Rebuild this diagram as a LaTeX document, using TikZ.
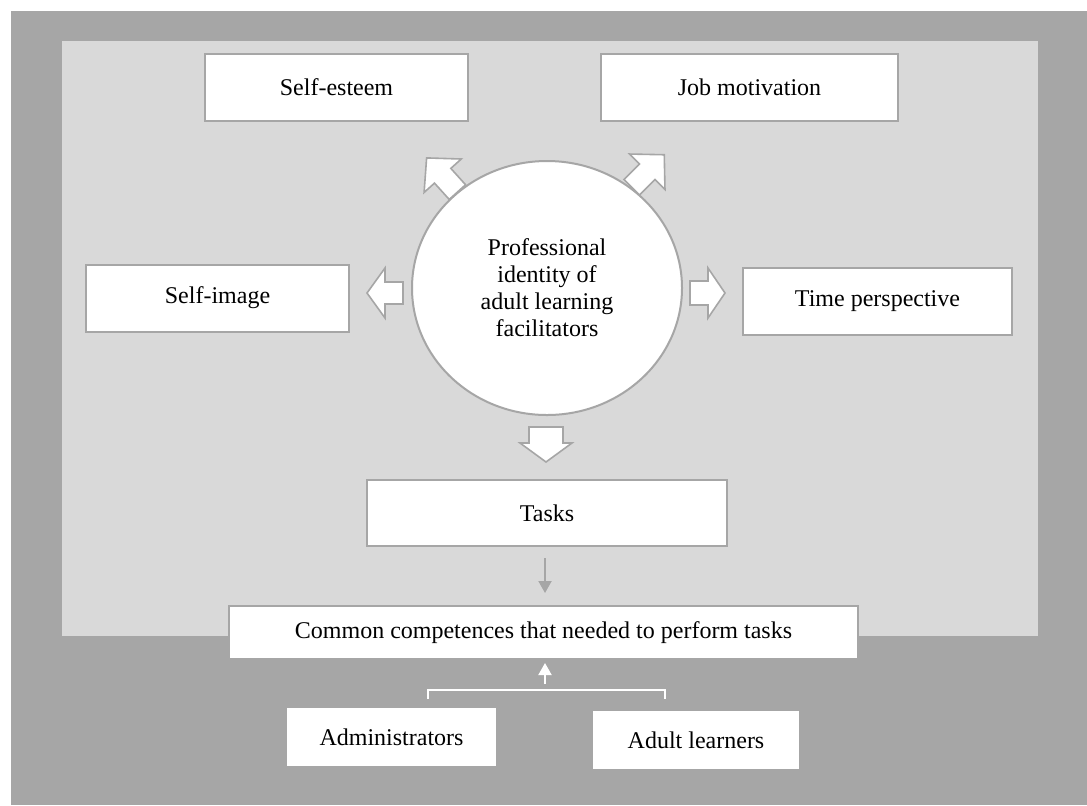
\documentclass[tikz,border=0pt]{standalone}
\usepackage{fontspec}
\setmainfont{Liberation Serif}
\usetikzlibrary{arrows.meta,shapes.geometric}
\definecolor{outerbg}{HTML}{A6A6A6}
\definecolor{innerbg}{HTML}{D9D9D9}
\definecolor{edgegray}{HTML}{A6A6A6}

% hollow block arrow: centre, direction, length, shaft width, head width, head length
\newcommand{\blockarrow}[6]{%
  \begin{scope}[shift={#1}, rotate=#2]
    \draw[blockarr] (-#3/2,-#4/2) -- (#3/2-#6,-#4/2) -- (#3/2-#6,-#5/2)
      -- (#3/2,0) -- (#3/2-#6,#5/2) -- (#3/2-#6,#4/2) -- (-#3/2,#4/2) -- cycle;
  \end{scope}}

\begin{document}
\begin{tikzpicture}[x=0.5pt,y=-0.5pt,
  txt/.style={font=\fontsize{12}{13.5}\selectfont, text=black},
  box/.style={txt, draw=edgegray, line width=1pt, fill=white, inner sep=0pt,
              minimum width=#1},
  boxh/.style={minimum height=#1},
  blockarr/.style={draw=edgegray, line width=0.8pt, fill=white, line join=miter},
  thinarrow/.style={line width=1pt, -{Triangle[width=6.5pt,length=6pt]}}]

\useasboundingbox (0,0) rectangle (1087,805);
\fill[outerbg] (11,11) rectangle (1087,805);
\fill[innerbg] (62,41) rectangle (1038,636);

% outer ring of aspects
\node[box=131.5pt, boxh=33.5pt] (esteem) at (336.5,87.5) {Self-esteem};
\node[box=148.5pt, boxh=33.5pt] (job)    at (749.5,87.5) {Job motivation};
\node[box=131.5pt, boxh=33.5pt] (image)  at (217.5,298)  {Self-image};
\node[box=134.5pt, boxh=33.5pt] (time)   at (877.5,301.5) {Time perspective};

% central identity
\node[ellipse, draw=edgegray, line width=1pt, fill=white, txt, align=center,
      minimum width=135pt, minimum height=127pt, inner sep=0pt]
  (core) at (547,288) {Professional\\identity of\\adult learning\\facilitators};

% block arrows radiating from the centre
\blockarrow{(442,175)}{132}{46}{22}{50}{24}
\blockarrow{(648,171)}{45}{46}{22}{50}{24}
\blockarrow{(385,293)}{180}{36}{22}{50}{18}
\blockarrow{(707.5,293)}{0}{35}{24}{50}{17}
\blockarrow{(546,444.5)}{-90}{35}{34}{52}{19}

\node[box=180pt, boxh=33pt] (tasks) at (547,513) {Tasks};
\node[box=314.5pt, boxh=26.5pt] (common) at (543.5,632.5)
  {Common competences that needed to perform tasks};

\coordinate (tk) at (545,558);
\coordinate (ck) at (545,593);
\draw[thinarrow, draw=edgegray, fill=edgegray] (tk) -- (ck);

% actors feeding the common competences
\node[box=105.5pt, boxh=30pt] (admin) at (391.5,737) {Administrators};
\node[box=104pt, boxh=30pt]   (adult) at (696,740)   {Adult learners};

\coordinate (bl) at (428,699);
\coordinate (br) at (665,699);
\coordinate (bm) at (545,684);
\coordinate (tip) at (545,663);
\draw[white, line width=1.2pt] (bl) -- (428,690) -- (665,690) -- (br);
\draw[thinarrow, white] (bm) -- (tip);
\end{tikzpicture}
\end{document}
